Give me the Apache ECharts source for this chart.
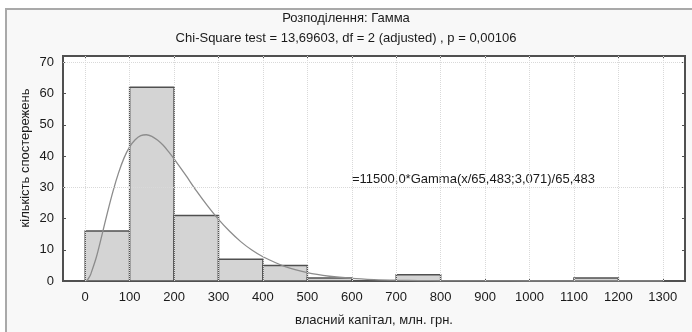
<!DOCTYPE html>
<html>
<head>
<meta charset="utf-8">
<script src="https://cdn.jsdelivr.net/npm/echarts@6/dist/echarts.min.js"></script>
<style>
html,body{margin:0;padding:0;background:#fff;}
#c{width:692px;height:332px;}
</style>
</head>
<body>
<div id="c"></div>
<script>
// Histogram bins (lower/upper edge) and observed counts
var binStart = [0, 100, 200, 300, 400, 500, 600, 700, 800, 900, 1000, 1100, 1200];
var binEnd   = [100, 200, 300, 400, 500, 600, 700, 800, 900, 1000, 1100, 1200, 1300];
var counts   = [16, 62, 21, 7, 5, 1, 0, 2, 0, 0, 0, 1, 0];

// Fitted gamma curve
var curveX = [0, 5, 10, 12.5, 25, 37.5, 50, 62.5, 75, 87.5, 100, 112.5, 125, 137.5, 150, 162.5, 175, 187.5, 200, 225, 250, 275, 300, 325, 350, 375, 400, 450, 500, 550, 600, 650, 700, 750, 800, 850, 900, 1000, 1100, 1200, 1300];
var curveY = [0, 0.37, 1.44, 2.2, 7.6, 14.6, 21.9, 28.7, 34.6, 39.4, 42.9, 45.2, 46.5, 46.8, 46.3, 45.1, 43.5, 41.4, 39.1, 34.1, 28.9, 24.1, 19.7, 15.9, 12.6, 9.9, 7.75, 4.61, 2.67, 1.52, 0.85, 0.47, 0.25, 0.14, 0.07, 0.04, 0.02, 0.005, 0.001, 0, 0];

var xTicks = [0, 100, 200, 300, 400, 500, 600, 700, 800, 900, 1000, 1100, 1200, 1300];
var yTicks = [0, 10, 20, 30, 40, 50, 60, 70];
var yGrid = [30, 70];

var titleText = 'Розподілення: Гамма';
var subText = 'Chi-Square test = 13,69603, df = 2 (adjusted) , p = 0,00106';
var xName = 'власний капітал, млн. грн.';
var yName = 'кількість спостережень';
var fitText = '=11500,0*Gamma(x/65,483;3,071)/65,483';

var FONT = '"Liberation Sans", Arial, sans-serif';
var FS = 13;
var TXT = '#1a1a1a';
var chart = echarts.init(document.getElementById('c'), null, {renderer: 'canvas'});

var hist = binStart.map(function (s, i) { return [s, binEnd[i], counts[i]]; });
var curve = curveX.map(function (x, i) { return [x, curveY[i]]; });

var gridLines = xTicks.map(function (v) { return {xAxis: v}; })
  .concat(yGrid.map(function (v) { return {yAxis: v}; }));

var axisLineStyle = {color: '#505050', width: 2};
function plain(v) { return String(v); }

chart.setOption({
  animation: false,
  backgroundColor: '#ffffff',
  grid: {left: 63, top: 56, right: 7, bottom: 49, show: true, backgroundColor: '#ffffff', borderColor: '#505050', borderWidth: 2},
  graphic: [
    {type: 'rect', z: -100, shape: {x: 6, y: 9, width: 700, height: 340}, style: {fill: '#f8f8f8', stroke: '#a9a9a9', lineWidth: 2}},
    {type: 'text', x: 346, y: 18, style: {text: titleText, font: FS + 'px ' + FONT, fill: TXT, textAlign: 'center', textVerticalAlign: 'middle'}},
    {type: 'text', x: 346, y: 38, style: {text: subText, font: FS + 'px ' + FONT, fill: TXT, textAlign: 'center', textVerticalAlign: 'middle'}},
    {type: 'text', x: 352, y: 179, style: {text: fitText, font: FS + 'px ' + FONT, fill: TXT, textAlign: 'left', textVerticalAlign: 'middle'}},
    {type: 'text', x: 25, y: 158, rotation: Math.PI / 2, style: {text: yName, font: FS + 'px ' + FONT, fill: TXT, textAlign: 'center', textVerticalAlign: 'middle'}}
  ],
  xAxis: [{
    type: 'value', min: -50, max: 1350, position: 'bottom',
    name: xName, nameLocation: 'middle', nameGap: 33,
    nameTextStyle: {fontFamily: FONT, fontSize: FS, color: TXT},
    axisLine: {show: true, onZero: false, lineStyle: axisLineStyle},
    axisTick: {show: true, inside: true, length: 3, customValues: xTicks, lineStyle: {color: '#505050'}},
    axisLabel: {customValues: xTicks, formatter: plain, fontFamily: FONT, fontSize: FS, color: TXT, margin: 10},
    splitLine: {show: false}
  }, {
    type: 'value', min: -50, max: 1350, position: 'top',
    axisLine: {show: true, onZero: false, lineStyle: axisLineStyle},
    axisTick: {show: true, inside: true, length: 3, customValues: xTicks, lineStyle: {color: '#505050'}},
    axisLabel: {show: false},
    splitLine: {show: false}
  }],
  yAxis: [{
    type: 'value', min: 0, max: 72, position: 'left',
    axisLine: {show: true, onZero: false, lineStyle: axisLineStyle},
    axisTick: {show: true, inside: true, length: 3, customValues: yTicks, lineStyle: {color: '#505050'}},
    axisLabel: {customValues: yTicks, formatter: plain, fontFamily: FONT, fontSize: FS, color: TXT, margin: 9},
    splitLine: {show: false}
  }, {
    type: 'value', min: 0, max: 72, position: 'right',
    axisLine: {show: true, onZero: false, lineStyle: axisLineStyle},
    axisTick: {show: true, inside: true, length: 3, customValues: yTicks, lineStyle: {color: '#505050'}},
    axisLabel: {show: false},
    splitLine: {show: false}
  }],
  series: [{
    type: 'line', z: 1, data: [], silent: true,
    markLine: {
      silent: true, symbol: 'none', label: {show: false},
      lineStyle: {type: 'dotted', color: '#d9d9d9', width: 1},
      data: gridLines
    }
  }, {
    type: 'custom', z: 2, data: hist, encode: {x: [0, 1], y: 2},
    renderItem: function (params, api) {
      var x0 = api.value(0), x1 = api.value(1), y = api.value(2);
      if (!y) return null;
      var p0 = api.coord([x0, y]);
      var p1 = api.coord([x1, 0]);
      return {type: 'rect', shape: {x: p0[0], y: p0[1], width: p1[0] - p0[0], height: p1[1] - p0[1]},
        style: {fill: '#d4d4d4', stroke: '#505050', lineWidth: 1.5}};
    }
  }, {
    type: 'line', z: 3, data: curve, smooth: 0.3, showSymbol: false,
    lineStyle: {color: '#8c8c8c', width: 1.3}
  }]
});
</script>
</body>
</html>
